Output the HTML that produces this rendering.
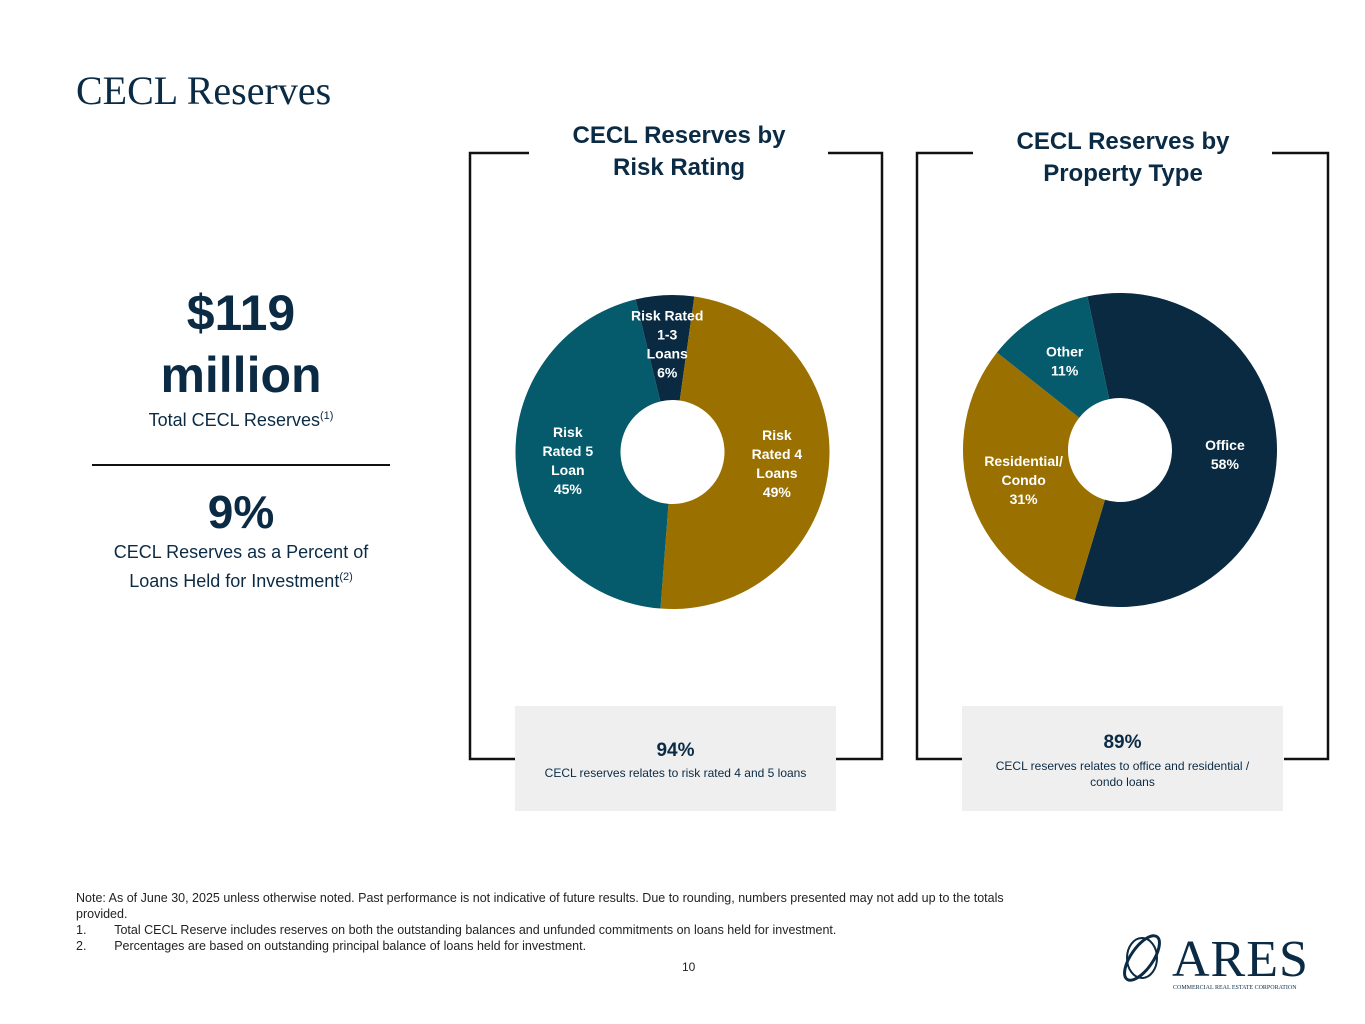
<!DOCTYPE html>
<html><head><meta charset="utf-8">
<style>
body{margin:0;width:1365px;height:1024px;background:#fff;position:relative;font-family:"Liberation Sans",sans-serif;color:#0b2b45;overflow:hidden}
.a{position:absolute}
.t{font-family:"Liberation Serif",serif;font-size:40px;left:76px;top:67px;color:#0b2b45}
.h{font-weight:bold;font-size:24px;text-align:center;line-height:32px;color:#0b2b45}
.box{background:#efefef;text-align:center;color:#0b2b45}
.fn{font-size:12.5px;left:76px;color:#222;line-height:16px}
</style></head><body>
<div class="a t">CECL Reserves</div>

<div class="a" style="left:90px;top:282px;width:302px;text-align:center">
<div style="font-weight:bold;font-size:50px;line-height:62px">$119<br>million</div>
<div style="font-size:18px;margin-top:4px">Total CECL Reserves<sup style="font-size:11px">(1)</sup></div>
</div>
<div class="a" style="left:92px;top:464px;width:298px;height:2px;background:#111"></div>
<div class="a" style="left:90px;top:484px;width:302px;text-align:center">
<div style="font-weight:bold;font-size:46px;line-height:56px">9%</div>
<div style="font-size:18px;line-height:25px">CECL Reserves as a Percent of<br>Loans Held for Investment<sup style="font-size:11px">(2)</sup></div>
</div>

<svg class="a" style="left:0;top:0" width="1365" height="1024">
<path d="M529 153 H470 V759 H530 M828 153 H882 V759 H836" fill="none" stroke="#111" stroke-width="2.5"/>
<path d="M973 153 H917 V759 H963 M1272 153 H1328 V759 H1284" fill="none" stroke="#111" stroke-width="2.5"/>
<g id="d1"></g><g id="d2"></g>
</svg>

<div class="a h" style="left:530px;top:120px;width:298px">CECL Reserves by<br>Risk Rating</div>
<div class="a h" style="left:973px;top:126px;width:300px">CECL Reserves by<br>Property Type</div>

<div class="a box" style="left:515px;top:706px;width:321px;height:105px">
<div style="font-weight:bold;font-size:19px;margin-top:34px">94%</div>
<div style="font-size:12px;margin-top:4px">CECL reserves relates to risk rated 4 and 5 loans</div></div>
<div class="a box" style="left:962px;top:706px;width:321px;height:105px">
<div style="font-weight:bold;font-size:19px;margin-top:26px">89%</div>
<div style="font-size:12px;margin-top:4px;line-height:16px">CECL reserves relates to office and residential /<br>condo loans</div></div>

<div class="a fn" style="top:890px;width:975px">Note: As of June 30, 2025 unless otherwise noted. Past performance is not indicative of future results. Due to rounding, numbers presented may not add up to the totals provided.<br>1.&nbsp;&nbsp;&nbsp;&nbsp;&nbsp;&nbsp;&nbsp;&nbsp;Total CECL Reserve includes reserves on both the outstanding balances and unfunded commitments on loans held for investment.<br>2.&nbsp;&nbsp;&nbsp;&nbsp;&nbsp;&nbsp;&nbsp;&nbsp;Percentages are based on outstanding principal balance of loans held for investment.</div>
<div class="a" style="left:682px;top:960px;font-size:12px;color:#222">10</div>

<div class="a" style="left:1118px;top:930px;width:185px;height:62px">
<svg width="60" height="60" style="position:absolute;left:0;top:0"><ellipse cx="24" cy="28" rx="26" ry="11" transform="rotate(-55 24 28)" fill="none" stroke="#0b2b45" stroke-width="3"/><ellipse cx="24" cy="28" rx="15" ry="20" fill="none" stroke="#0b2b45" stroke-width="2"/></svg>
<div style="position:absolute;left:54px;top:4px;font-family:'Liberation Serif',serif;font-size:52px;line-height:52px;color:#0b2b45;letter-spacing:1px">ARES</div>
<div style="position:absolute;left:55px;top:55px;font-family:'Liberation Serif',serif;font-size:6px;color:#0b2b45;white-space:nowrap">COMMERCIAL REAL ESTATE CORPORATION</div>
</div>

<script>
const riskLabels=["Risk Rated\n1-3\nLoans\n6%","Risk\nRated 4\nLoans\n49%","Risk\nRated 5\nLoan\n45%"];
const riskValues=[6,49,45];
const riskColors=["#0a2a42","#9a7000","#055a6b"];
const propLabels=["Office\n58%","Residential/\nCondo\n31%","Other\n11%"];
const propValues=[58,31,11];
const propColors=["#0a2a42","#9a7000","#055a6b"];
const NS="http://www.w3.org/2000/svg";
function donut(gid,cx,cy,R,r,start,vals,cols,labs,lpos){
 const g=document.getElementById(gid);const tot=vals.reduce((a,b)=>a+b,0);let a0=start;
 const pt=(a,rad)=>[cx+rad*Math.sin(a*Math.PI/180),cy-rad*Math.cos(a*Math.PI/180)];
 vals.forEach((v,i)=>{const a1=a0+v/tot*360;const L=(a1-a0)>180?1:0;
  const [x0,y0]=pt(a0,R),[x1,y1]=pt(a1,R),[x2,y2]=pt(a1,r),[x3,y3]=pt(a0,r);
  const p=document.createElementNS(NS,"path");
  
  
  p.setAttribute("d",`M${x0} ${y0}A${R} ${R} 0 ${L} 1 ${x1} ${y1}L${x2} ${y2}A${r} ${r} 0 ${L} 0 ${x3} ${y3}Z`);
  p.setAttribute("fill",cols[i]);g.appendChild(p);
  a0=a1;});
 a0=start;
 vals.forEach((v,i)=>{const a1=a0+v/tot*360;
  const mid=(a0+a1)/2;const [lx,ly]=pt(mid,lpos[i]);
  const t=document.createElementNS(NS,"text");
  
  
  t.setAttribute("fill","#fff");t.setAttribute("font-size","14");t.setAttribute("font-weight","bold");
  t.setAttribute("text-anchor","middle");t.setAttribute("font-family","Liberation Sans, sans-serif");
  const lines=labs[i].split("\n");
  lines.forEach((s,k)=>{const ts=document.createElementNS(NS,"tspan");ts.setAttribute("x",lx);
   ts.setAttribute("y",ly+(k-(lines.length-1)/2)*19+5);ts.textContent=s;t.appendChild(ts);});
  g.appendChild(t);a0=a1;});
}
donut("d1",672.5,452,157,52,-13.6,riskValues,riskColors,riskLabels,[108,105,105]);
donut("d2",1120,450,157,52,-12,propValues,propColors,propLabels,[105,101,105]);
</script>
</body></html>
